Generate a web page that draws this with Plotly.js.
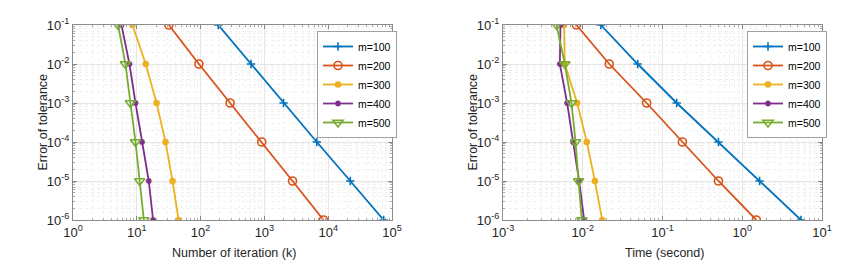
<!DOCTYPE html>
<html>
<head>
<meta charset="utf-8">
<script src="https://cdn.plot.ly/plotly-3.0.1.min.js"></script>
<style>html,body{margin:0;padding:0;background:#fff;}#chart{width:860px;height:271px;}</style>
</head>
<body>
<div id="chart"></div>
<script>
// ---- data ----
var seriesNames = ['m=100', 'm=200', 'm=300', 'm=400', 'm=500'];
var tolerance = [1e-1, 1e-2, 1e-3, 1e-4, 1e-5, 1e-6];

// Left: number of iterations (k)
var iter_m100 = [189, 617, 1995, 6630, 22200, 74000];
var iter_m200 = [31.8, 94, 290, 908, 2760, 8450];
var iter_m300 = [8.55, 13.8, 20.4, 28.2, 36.3, 45.2];
var iter_m400 = [5.75, 7.67, 9.55, 12.1, 15.4, 18.0];
var iter_m500 = [5.09, 6.64, 7.95, 9.55, 11.1, 12.9];

// Right: time (second)
var time_m100 = [0.01686, 0.0488, 0.1507, 0.503, 1.65, 5.45];
var time_m200 = [0.00833, 0.0215, 0.0632, 0.1775, 0.503, 1.50];
var time_m300 = [0.00583, 0.00596, 0.00851, 0.01124, 0.0142, 0.01754];
var time_m400 = [0.00526, 0.00516, 0.00637, 0.00757, 0.00901, 0.01042];
var time_m500 = [0.00469, 0.00596, 0.00723, 0.00812, 0.00885, 0.00975];

var yTickVals = [1e-6, 1e-5, 1e-4, 1e-3, 1e-2, 1e-1];
var yTickText = ['10<sup>-6</sup>', '10<sup>-5</sup>', '10<sup>-4</sup>', '10<sup>-3</sup>', '10<sup>-2</sup>', '10<sup>-1</sup>'];
var x1TickVals = [1, 10, 100, 1000, 10000, 100000];
var x1TickText = ['10<sup>0</sup>', '10<sup>1</sup>', '10<sup>2</sup>', '10<sup>3</sup>', '10<sup>4</sup>', '10<sup>5</sup>'];
var x2TickVals = [0.001, 0.01, 0.1, 1, 10];
var x2TickText = ['10<sup>-3</sup>', '10<sup>-2</sup>', '10<sup>-1</sup>', '10<sup>0</sup>', '10<sup>1</sup>'];
var yTitle = 'Error of tolerance';
var x1Title = 'Number of iteration (k)';
var x2Title = 'Time (second)';

// ---- styles ----
var colors = ['#0072BD', '#D95319', '#EDB120', '#7E2F8E', '#77AC30'];
var symbols = ['cross-thin-open', 'circle-open', 'circle', 'asterisk-open', 'triangle-down-open'];
var sizes = [6, 8, 5, 5, 9];

var leftData = [iter_m100, iter_m200, iter_m300, iter_m400, iter_m500];
var rightData = [time_m100, time_m200, time_m300, time_m400, time_m500];

var traces = [];
function addTraces(dataSets, xa, ya, legendId) {
  for (var i = 0; i < dataSets.length; i++) {
    traces.push({
      x: dataSets[i], y: tolerance, xaxis: xa, yaxis: ya,
      type: 'scatter', mode: 'lines+markers', name: seriesNames[i],
      legend: legendId,
      line: {color: colors[i], width: 1.8},
      marker: {symbol: symbols[i], size: sizes[i], color: colors[i],
               line: {color: colors[i], width: 1.6}}
    });
  }
}
addTraces(leftData, 'x', 'y', 'legend');
addTraces(rightData, 'x2', 'y2', 'legend2');

var W = 860, H = 271, T = 25, PH = 195;
var fam = 'Liberation Sans, Arial, sans-serif';
var tickFont = {family: fam, size: 13, color: '#262626'};
var titleFont = {family: fam, size: 12.5, color: '#262626'};
var minorStyle = {dtick: 'D1', showgrid: true, gridcolor: '#f0f0f0', griddash: 'dot', ticks: 'inside', ticklen: 2, tickcolor: '#aaa'};
function xAxis(domain, range, tv, tt, anchor) {
  return {
    type: 'log', domain: domain, range: range, anchor: anchor,
    tickmode: 'array', tickvals: tv, ticktext: tt,
    ticks: 'inside', ticklen: 4, tickcolor: '#888', mirror: 'ticks',
    showline: true, linecolor: '#8c8c8c', linewidth: 1,
    showgrid: true, gridcolor: '#e6e6e6', gridwidth: 1,
    minor: minorStyle, zeroline: false, tickfont: tickFont
  };
}
function yAxis(anchor) {
  return {
    type: 'log', domain: [0, 1], range: [-6, -1], anchor: anchor,
    tickmode: 'array', tickvals: yTickVals, ticktext: yTickText,
    ticks: 'inside', ticklen: 4, tickcolor: '#888', mirror: 'ticks',
    showline: true, linecolor: '#8c8c8c', linewidth: 1,
    showgrid: true, gridcolor: '#e6e6e6', gridwidth: 1,
    minor: minorStyle, zeroline: false, tickfont: tickFont,
    ticklabelstandoff: 0
  };
}
var legendStyle = function (x) {
  return {
    x: x, y: (T + PH - 31) / PH, xanchor: 'left', yanchor: 'top',
    xref: 'paper', yref: 'paper',
    bgcolor: '#ffffff', bordercolor: '#a0a0a0', borderwidth: 1,
    font: {family: fam, size: 10.5, color: '#000'},
    itemwidth: 30, tracegroupgap: 0
  };
};
// paper coords helpers (margins l=r=0)
function px(xp) { return xp / W; }
function py(yp) { return (T + PH - yp) / PH; }

var annotations = [
  {text: yTitle, x: px(42), y: py(122.5), textangle: -90},
  {text: yTitle, x: px(472), y: py(122.5), textangle: -90},
  {text: x1Title, x: px(234), y: py(253)},
  {text: x2Title, x: px(664), y: py(253)}
].map(function (a) {
  a.xref = 'paper'; a.yref = 'paper'; a.showarrow = false;
  a.xanchor = 'center'; a.yanchor = 'middle'; a.font = titleFont;
  return a;
});

var layout = {
  width: W, height: H,
  margin: {l: 0, r: 0, t: T, b: H - T - PH},
  paper_bgcolor: '#ffffff', plot_bgcolor: '#ffffff',
  showlegend: true,
  font: tickFont,
  xaxis: xAxis([73 / W, 392 / W], [0, 5], x1TickVals, x1TickText, 'y'),
  yaxis: yAxis('x'),
  xaxis2: xAxis([503 / W, 822 / W], [-3, 1], x2TickVals, x2TickText, 'y2'),
  yaxis2: yAxis('x2'),
  legend: legendStyle(317 / W),
  legend2: legendStyle(747 / W),
  annotations: annotations
};

Plotly.newPlot('chart', traces, layout, {displayModeBar: false, staticPlot: true});
</script>
</body>
</html>
